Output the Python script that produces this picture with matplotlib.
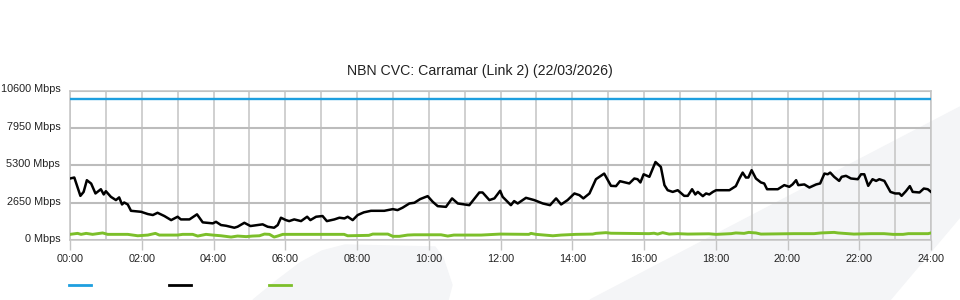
import matplotlib
matplotlib.use("Agg")
import matplotlib.pyplot as plt
from matplotlib.lines import Line2D
from matplotlib.patches import Polygon
import matplotlib.transforms as mtransforms

plt.rcParams['font.family'] = ['Liberation Sans', 'DejaVu Sans']

# chart data (hours since midnight, Mbps)
title = "NBN CVC: Carramar (Link 2) (22/03/2026)"
capacity_hours = [0, 24]
capacity_mbps = [10000, 10000]

down_hours = [0.00, 0.12, 0.29, 0.38, 0.47, 0.59, 0.71, 0.86, 0.94, 1.00,
              1.14, 1.28, 1.37, 1.45, 1.51, 1.61, 1.70, 1.98, 2.17, 2.31,
              2.44, 2.63, 2.82, 3.00, 3.09, 3.33, 3.54, 3.70, 3.98, 4.07,
              4.21, 4.35, 4.58, 4.67, 4.86, 5.03, 5.23, 5.37, 5.51, 5.69,
              5.79, 5.88, 6.02, 6.11, 6.25, 6.44, 6.61, 6.70, 6.86, 7.04,
              7.16, 7.37, 7.51, 7.65, 7.74, 7.88, 8.02, 8.19, 8.39, 8.76,
              9.00, 9.13, 9.27, 9.46, 9.60, 9.76, 9.97, 10.11, 10.25, 10.48,
              10.65, 10.81, 11.13, 11.41, 11.50, 11.69, 11.83, 11.99, 12.06, 12.29,
              12.38, 12.48, 12.71, 12.94, 13.18, 13.38, 13.55, 13.69, 13.87, 14.06,
              14.20, 14.31, 14.48, 14.66, 14.89, 15.08, 15.22, 15.33, 15.59, 15.73,
              15.82, 15.90, 15.99, 16.15, 16.32, 16.47, 16.57, 16.66, 16.80, 16.94,
              17.12, 17.22, 17.34, 17.43, 17.50, 17.64, 17.73, 17.82, 17.92, 18.01,
              18.38, 18.56, 18.66, 18.75, 18.84, 18.91, 19.00, 19.12, 19.26, 19.35,
              19.43, 19.73, 19.91, 20.05, 20.14, 20.24, 20.30, 20.47, 20.61, 20.80,
              20.91, 21.03, 21.12, 21.19, 21.30, 21.44, 21.51, 21.63, 21.77, 21.96,
              22.05, 22.14, 22.25, 22.37, 22.47, 22.56, 22.70, 22.87, 23.00, 23.12,
              23.18, 23.30, 23.41, 23.49, 23.68, 23.80, 23.91, 24.00]
down_mbps = [4360, 4430, 3130, 3410, 4240, 4000, 3300, 3600, 3230, 3460,
             3060, 2830, 3020, 2520, 2660, 2520, 2070, 2000, 1840, 1770,
             1930, 1700, 1410, 1650, 1460, 1460, 1820, 1250, 1180, 1290,
             1060, 1010, 870, 940, 1220, 990, 1060, 1110, 940, 870,
             1060, 1580, 1410, 1340, 1460, 1340, 1650, 1410, 1650, 1700,
             1340, 1460, 1580, 1530, 1650, 1410, 1770, 1960, 2070, 2070,
             2190, 2120, 2290, 2590, 2640, 2900, 3110, 2710, 2400, 2350,
             2950, 2590, 2470, 3370, 3370, 2830, 2950, 3490, 3060, 2470,
             2760, 2590, 2990, 2830, 2590, 2470, 2950, 2520, 2830, 3300,
             3180, 2950, 3300, 4310, 4710, 3840, 3820, 4170, 4010, 4360,
             4310, 4080, 4660, 4480, 5530, 5180, 3890, 3530, 3410, 3530,
             3130, 3130, 3600, 3230, 3410, 3110, 3300, 3230, 3410, 3530,
             3530, 3820, 4360, 4780, 4430, 4430, 4950, 4360, 4080, 4010,
             3600, 3600, 3890, 3770, 3940, 4240, 3890, 3940, 3720, 3940,
             4010, 4710, 4660, 4780, 4480, 4190, 4480, 4550, 4360, 4310,
             4660, 4660, 3840, 4310, 4190, 4310, 4190, 3410, 3300, 3300,
             3130, 3460, 3820, 3410, 3370, 3650, 3600, 3410]

up_hours = [0.00, 0.21, 0.31, 0.45, 0.63, 0.91, 1.05, 1.61, 1.89, 2.17,
            2.38, 2.49, 3.00, 3.14, 3.42, 3.56, 3.79, 3.98, 4.21, 4.49,
            4.67, 4.91, 5.09, 5.28, 5.42, 5.56, 5.69, 5.79, 5.93, 7.64,
            7.74, 8.33, 8.44, 8.86, 9.00, 9.18, 9.41, 9.59, 10.34, 10.53,
            10.70, 11.46, 11.99, 12.79, 12.85, 12.99, 13.46, 13.69, 14.10, 14.57,
            14.66, 14.94, 15.08, 16.14, 16.28, 16.38, 16.52, 16.70, 16.94, 17.22,
            17.81, 18.01, 18.43, 18.56, 18.79, 18.92, 19.12, 19.26, 20.18, 20.74,
            20.93, 21.30, 21.41, 21.85, 22.33, 22.69, 22.94, 23.22, 23.37, 23.92,
            24.00]
up_mbps = [400, 470, 400, 470, 400, 500, 400, 400, 300, 350,
           470, 350, 350, 400, 400, 280, 400, 350, 300, 210,
           280, 240, 280, 300, 420, 400, 210, 280, 400, 400,
           300, 330, 420, 420, 260, 260, 350, 370, 370, 280,
           350, 350, 420, 400, 470, 400, 300, 350, 400, 420,
           470, 520, 480, 450, 480, 420, 520, 420, 450, 420,
           440, 400, 450, 500, 470, 540, 500, 420, 450, 450,
           500, 540, 500, 420, 450, 450, 400, 400, 450, 450,
           500]

y_ticks = [0, 2650, 5300, 7950, 10600]
x_ticks = list(range(0, 25, 2))
x_labels = ["%02d:00" % h for h in x_ticks]

blue = "#1e9fdf"
green = "#7cbf2a"
grid_col = "#c4c4c4"
shade = "#f4f5f7"

fig = plt.figure(figsize=(9.6, 3), dpi=100)

# faint background watermark shapes (figure pixel coords)
def px(pts):
    return [(x / 960, 1 - y / 300) for x, y in pts]

fig.patches.append(Polygon(px([(253, 300), (275, 282), (300, 263), (322, 251), (345, 245),
                               (435, 247), (443, 258), (452, 285), (448, 300)]),
                           closed=True, transform=fig.transFigure, color=shade, zorder=0))
fig.patches.append(Polygon(px([(590, 300), (960, 107), (960, 217), (890, 300)]),
                           closed=True, transform=fig.transFigure, color=shade, zorder=0))

ax = fig.add_axes([70 / 960, 0.2, 861 / 960, 149.5 / 300])
ax.set_zorder(2)
ax.patch.set_alpha(0)

ax.plot(capacity_hours, capacity_mbps, color=blue, lw=1.7, zorder=3)
ax.plot(up_hours, up_mbps, color=green, lw=2.1, zorder=3)
ax.plot(down_hours, down_mbps, color="black", lw=1.8, zorder=4)

ax.set_xlim(0, 24)
ax.set_ylim(0, 10600)
ax.set_yticks(y_ticks)
ax.set_yticklabels(["%d Mbps" % v for v in y_ticks])
ax.set_xticks(x_ticks)
ax.set_xticklabels(x_labels)
ax.set_xticks(range(0, 25), minor=True)

ax.grid(True, axis="y", color="#bcbcbc", lw=1.5)
ax.grid(True, axis="x", which="both", color=grid_col, lw=1.1)
ax.set_axisbelow(True)

ax.tick_params(axis="y", length=0, pad=7, labelsize=7.8, labelcolor="#222222")
ax.tick_params(axis="x", which="major", length=7, width=1, color=grid_col,
               pad=3, labelsize=7.8, labelcolor="#222222")
ax.tick_params(axis="x", which="minor", length=0)

offset = mtransforms.ScaledTranslation(0, 2 / 100, fig.dpi_scale_trans)
for lab in ax.get_yticklabels():
    lab.set_transform(lab.get_transform() + offset)

for s in ax.spines.values():
    s.set_color(grid_col)
    s.set_linewidth(1.1)

fig.text(0.5, 1 - 71 / 300, title, ha="center", va="center", fontsize=10.2, color="#222222")

# legend keys without labels
for x0, col in [(69, blue), (169, "black"), (269, green)]:
    fig.add_artist(Line2D([x0 / 960, (x0 + 22) / 960], [1 - 285 / 300] * 2,
                          transform=fig.transFigure, color=col, lw=2))

fig.savefig("out.png", dpi=100)
